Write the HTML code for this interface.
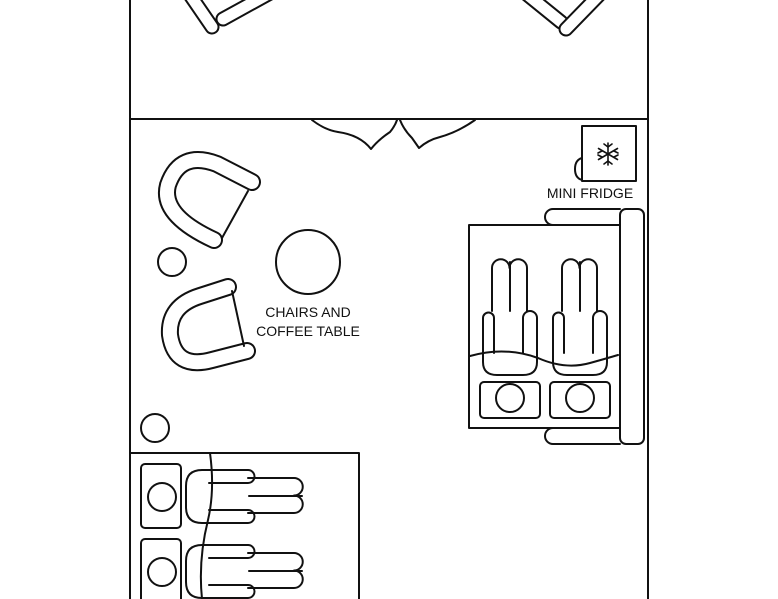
<!DOCTYPE html>
<html><head><meta charset="utf-8"><style>
html,body{margin:0;padding:0;background:#fff;}
svg{display:block;}
text{font-family:"Liberation Sans",sans-serif;font-size:14px;fill:#111;stroke:none;}
</style></head><body>
<svg width="778" height="599" viewBox="0 0 778 599" xmlns="http://www.w3.org/2000/svg">
<g fill="none" stroke="#111" stroke-width="2" stroke-linecap="round" stroke-linejoin="round">
<!-- walls -->
<line x1="130" y1="0" x2="130" y2="599"/>
<line x1="648" y1="0" x2="648" y2="599"/>
<line x1="130" y1="119" x2="648" y2="119"/>

<!-- top chairs (double stroke) -->
<g>
<path d="M188,-8 L212,27" stroke-width="15"/><path d="M188,-8 L212,27" stroke="#fff" stroke-width="11"/>
<path d="M223,19 L272,-8" stroke-width="15"/><path d="M223,19 L272,-8" stroke="#fff" stroke-width="11"/>
<path d="M524,-8 L561,22" stroke-width="15"/><path d="M524,-8 L561,22" stroke="#fff" stroke-width="11"/>
<path d="M566,29 L602,-8" stroke-width="15"/><path d="M566,29 L602,-8" stroke="#fff" stroke-width="11"/>
</g>

<!-- curtains -->
<path d="M312,120 Q325,130 338,132 Q360,135 371,149 Q378,140 390,132 Q395,126 397,120"/>
<path d="M400,120 Q404,130 412,138 L419,148 Q428,140 440,137 Q458,132 475,120"/>

<!-- mini fridge -->
<path d="M582,158 Q575,160 575,169 Q575,178 582,180"/>
<rect x="582" y="126" width="54" height="55" fill="#fff"/>
<g stroke-width="1.6">
<line x1="608" y1="143" x2="608" y2="165"/>
<line x1="598.5" y1="148.5" x2="617.5" y2="159.5"/>
<line x1="598.5" y1="159.5" x2="617.5" y2="148.5"/>
<path d="M604,144 L608,147 L612,144 M604,164 L608,161 L612,164"/>
<path d="M598,153 L602,151 M598,155 L602,157"/>
<path d="M618,153 L614,151 M618,155 L614,157"/>
</g>

<!-- sofa -->
<rect x="620" y="209" width="24" height="235" rx="6"/>
<path d="M620,209 H553 A8,8 0 0 0 553,225 H620"/>
<path d="M620,428 H553 A8,8 0 0 0 553,444 H620"/>
<rect x="469" y="225" width="151" height="203"/>
<g id="rv">
<path d="M492,311 V268 A8.75,8.75 0 0 1 509.5,268 A8.75,8.75 0 0 1 527,268 V311"/>
<line x1="510" y1="262" x2="510" y2="311"/>
<path d="M483,360 V318 A5.5,5.5 0 0 1 494,318 V353"/>
<path d="M523,353 V318 A7,7 0 0 1 537,318 V360"/>
<path d="M483,357 V362 Q483,375 497,375 H523 Q537,375 537,362 V357"/>
<rect x="480" y="382" width="60" height="36" rx="4"/>
<circle cx="510" cy="398" r="14"/>
</g>
<use href="#rv" x="70"/>
<path d="M470,356 Q505,346 538,358 Q565,370 590,363 Q608,358 618,355"/>

<!-- chairs and coffee table (double stroke U) -->
<path d="M252,182 L217,164 Q180,150 168,185 Q160,215 214,240" stroke-width="18"/>
<path d="M252,182 L217,164 Q180,150 168,185 Q160,215 214,240" stroke="#fff" stroke-width="14"/>
<line x1="248" y1="191" x2="222" y2="238"/>
<path d="M228,287 L200,296 Q168,306 170,335 Q175,370 212,360 L247,351" stroke-width="18"/>
<path d="M228,287 L200,296 Q168,306 170,335 Q175,370 212,360 L247,351" stroke="#fff" stroke-width="14"/>
<line x1="232" y1="291" x2="244" y2="346"/>
<circle cx="172" cy="262" r="14"/>
<circle cx="155" cy="428" r="14"/>
<circle cx="308" cy="262" r="32"/>

<!-- bottom bed -->
<path d="M130,453 H359 V599"/>
<g id="rh">
<rect x="141" y="464" width="40" height="64" rx="4"/>
<circle cx="162" cy="497" r="14"/>
<path d="M248,470 H202 Q186,470 186,486 V507 Q186,523 202,523 H248 A6.5,6.5 0 0 0 248,510 H209"/>
<path d="M209,483 H248 A6.5,6.5 0 0 0 248,470"/>
<path d="M248,478 H294 A8.75,8.75 0 0 1 294,495.5 A8.75,8.75 0 0 1 294,513 H248"/>
<line x1="249" y1="496" x2="302" y2="496"/>
</g>
<use href="#rh" y="75"/>
<path d="M210,453 Q215,490 208,520 Q198,560 202,599"/>
</g>
<text x="590" y="198" text-anchor="middle">MINI FRIDGE</text>
<text x="308" y="317" text-anchor="middle">CHAIRS AND</text>
<text x="308" y="336" text-anchor="middle">COFFEE TABLE</text>
</svg>
</body></html>
